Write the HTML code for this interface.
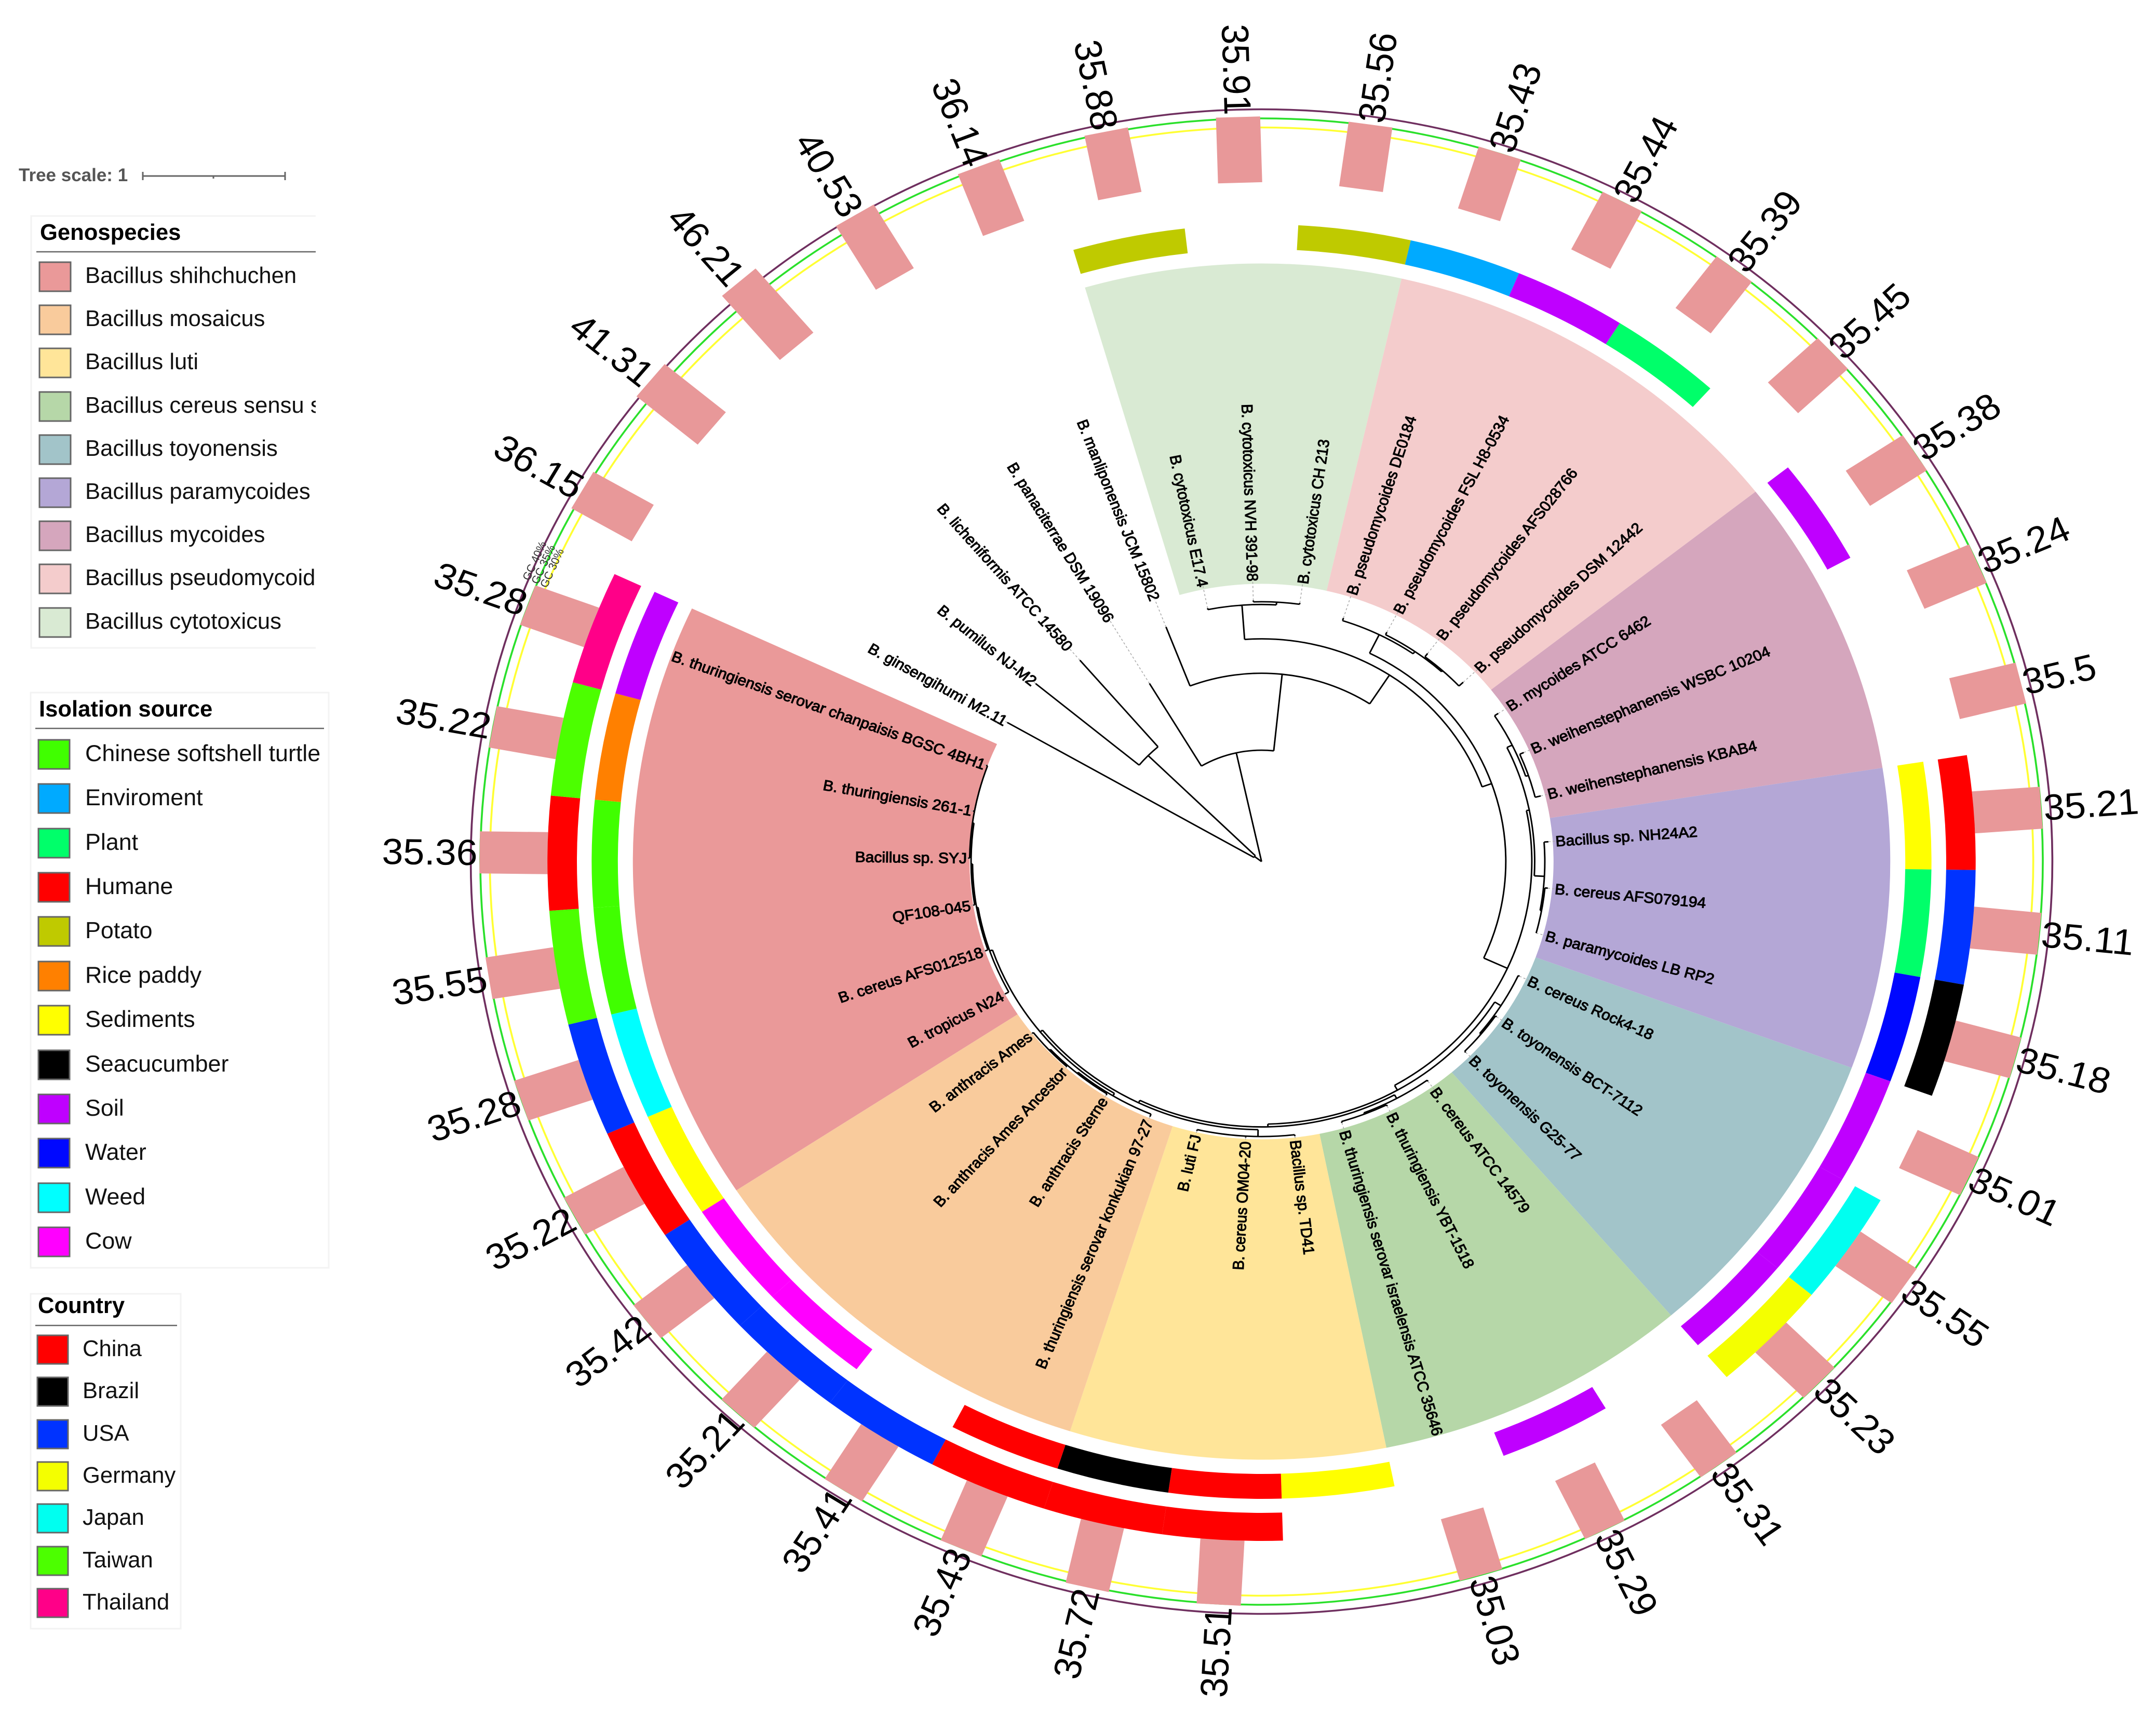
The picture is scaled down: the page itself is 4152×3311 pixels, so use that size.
<!DOCTYPE html>
<html lang="en">
<head>
<meta charset="utf-8">
<title>Bacillus phylogenetic tree</title>
<style>
html,body{margin:0;padding:0;background:#fff}
svg{display:block}
text{font-family:"Liberation Sans",sans-serif}
.lt{font-size:43.6px;fill:#111}
.li{font-size:44.8px;fill:#111}
.lh{font-size:43.6px;font-weight:bold;fill:#000}
.sw{stroke:#666;stroke-width:3}
.box{fill:#fff;stroke:#f3f3f3;stroke-width:3}
.rule{stroke:#666;stroke-width:2.5}
</style>
</head>
<body>
<svg id="figure" xmlns="http://www.w3.org/2000/svg" width="4152" height="3311" viewBox="0 0 4152 3311">
<rect width="4152" height="3311" fill="#fff"/>
<g id="chart" transform="translate(2429.5 1659.5) scale(1.051 1)"></g>

<g>
<text x="36" y="349" font-size="35" font-weight="bold" fill="#555">Tree scale: 1</text>
<path d="M275 339H549M275 331V347M549 331V347M411 339V344" stroke="#666" stroke-width="3" fill="none"/>
</g>

<clipPath id="clipGeno"><rect x="58" y="414" width="550" height="836"/></clipPath>
<g clip-path="url(#clipGeno)">
<rect class="box" x="60" y="416" width="700" height="832"/>
<text class="lh" x="77" y="462">Genospecies</text>
<line class="rule" x1="70" x2="608" y1="485" y2="485"/>
<g><rect class="sw" x="76" y="505" width="60" height="56" fill="#ea9999"/><text class="lt" x="164" y="545">Bacillus shihchuchen</text></g>
<g><rect class="sw" x="76" y="588" width="60" height="56" fill="#f9cb9c"/><text class="lt" x="164" y="628">Bacillus mosaicus</text></g>
<g><rect class="sw" x="76" y="671" width="60" height="56" fill="#ffe599"/><text class="lt" x="164" y="711">Bacillus luti</text></g>
<g><rect class="sw" x="76" y="755" width="60" height="56" fill="#b6d7a8"/><text class="lt" x="164" y="795">Bacillus cereus sensu stricto</text></g>
<g><rect class="sw" x="76" y="838" width="60" height="56" fill="#a2c4c9"/><text class="lt" x="164" y="878">Bacillus toyonensis</text></g>
<g><rect class="sw" x="76" y="921" width="60" height="56" fill="#b4a7d6"/><text class="lt" x="164" y="961">Bacillus paramycoides</text></g>
<g><rect class="sw" x="76" y="1004" width="60" height="56" fill="#d5a6bd"/><text class="lt" x="164" y="1044">Bacillus mycoides</text></g>
<g><rect class="sw" x="76" y="1087" width="60" height="56" fill="#f4cccc"/><text class="lt" x="164" y="1127">Bacillus pseudomycoides</text></g>
<g><rect class="sw" x="76" y="1171" width="60" height="56" fill="#d9ead3"/><text class="lt" x="164" y="1211">Bacillus cytotoxicus</text></g>
</g>

<g>
<rect class="box" x="59" y="1334" width="574" height="1108"/>
<text class="lh" x="75" y="1380">Isolation source</text>
<line class="rule" x1="68" x2="624" y1="1403" y2="1403"/>
<g><rect class="sw" x="74" y="1425" width="60" height="56" fill="#40ff00"/><text class="li" x="164" y="1466">Chinese softshell turtle</text></g>
<g><rect class="sw" x="74" y="1510" width="60" height="56" fill="#00aaff"/><text class="li" x="164" y="1551">Enviroment</text></g>
<g><rect class="sw" x="74" y="1596" width="60" height="56" fill="#00ff6a"/><text class="li" x="164" y="1637">Plant</text></g>
<g><rect class="sw" x="74" y="1681" width="60" height="56" fill="#ff0000"/><text class="li" x="164" y="1722">Humane</text></g>
<g><rect class="sw" x="74" y="1766" width="60" height="56" fill="#bfca00"/><text class="li" x="164" y="1807">Potato</text></g>
<g><rect class="sw" x="74" y="1852" width="60" height="56" fill="#ff8000"/><text class="li" x="164" y="1893">Rice paddy</text></g>
<g><rect class="sw" x="74" y="1937" width="60" height="56" fill="#ffff00"/><text class="li" x="164" y="1978">Sediments</text></g>
<g><rect class="sw" x="74" y="2023" width="60" height="56" fill="#000"/><text class="li" x="164" y="2064">Seacucumber</text></g>
<g><rect class="sw" x="74" y="2108" width="60" height="56" fill="#bf00ff"/><text class="li" x="164" y="2149">Soil</text></g>
<g><rect class="sw" x="74" y="2193" width="60" height="56" fill="#0008ff"/><text class="li" x="164" y="2234">Water</text></g>
<g><rect class="sw" x="74" y="2279" width="60" height="56" fill="#00ffff"/><text class="li" x="164" y="2320">Weed</text></g>
<g><rect class="sw" x="74" y="2364" width="60" height="56" fill="#ff00ff"/><text class="li" x="164" y="2405">Cow</text></g>
</g>

<g>
<rect class="box" x="59" y="2492" width="289" height="645"/>
<text class="lh" x="73" y="2529">Country</text>
<line class="rule" x1="68" x2="341" y1="2553" y2="2553"/>
<g><rect class="sw" x="72" y="2572" width="59" height="55" fill="#ff0000"/><text class="lt" x="159" y="2612">China</text></g>
<g><rect class="sw" x="72" y="2653" width="59" height="55" fill="#000"/><text class="lt" x="159" y="2693">Brazil</text></g>
<g><rect class="sw" x="72" y="2735" width="59" height="55" fill="#0033ff"/><text class="lt" x="159" y="2775">USA</text></g>
<g><rect class="sw" x="72" y="2816" width="59" height="55" fill="#f4ff00"/><text class="lt" x="159" y="2856">Germany</text></g>
<g><rect class="sw" x="72" y="2897" width="59" height="55" fill="#00fff0"/><text class="lt" x="159" y="2937">Japan</text></g>
<g><rect class="sw" x="72" y="2979" width="59" height="55" fill="#4cff00"/><text class="lt" x="159" y="3019">Taiwan</text></g>
<g><rect class="sw" x="72" y="3060" width="59" height="55" fill="#ff0088"/><text class="lt" x="159" y="3100">Thailand</text></g>
</g>
</svg>

<script>
// ---- data, one entry per tip, clockwise from the outgroup ----
const taxa = [
"B. ginsengihumi M2.11","B. pumilus NJ-M2","B. licheniformis ATCC 14580","B. panaciterrae DSM 19096","B. manliponensis JCM 15802",
"B. cytotoxicus E17.4","B. cytotoxicus NVH 391-98","B. cytotoxicus CH 213",
"B. pseudomycoides DE0184","B. pseudomycoides FSL H8-0534","B. pseudomycoides AFS028766","B. pseudomycoides DSM 12442",
"B. mycoides ATCC 6462","B. weihenstephanensis WSBC 10204","B. weihenstephanensis KBAB4",
"Bacillus sp. NH24A2","B. cereus AFS079194","B. paramycoides LB RP2",
"B. cereus Rock4-18","B. toyonensis BCT-7112","B. toyonensis G25-77",
"B. cereus ATCC 14579","B. thuringiensis YBT-1518","B. thuringiensis serovar israelensis ATCC 35646",
"Bacillus sp. TD41","B. cereus OM04-20","B. luti FJ",
"B. thuringiensis serovar konkukian 97-27","B. anthracis Sterne","B. anthracis Ames Ancestor","B. anthracis Ames",
"B. tropicus N24","B. cereus AFS012518","QF108-045","Bacillus sp. SYJ","B. thuringiensis 261-1","B. thuringiensis serovar chanpaisis BGSC 4BH1"];

const gcValues = [36.15,41.31,46.21,40.53,36.14,35.88,35.91,35.56,35.43,35.44,35.39,35.45,35.38,35.24,35.5,35.21,35.11,35.18,35.01,35.55,35.23,35.31,35.29,35.03,null,35.51,35.72,35.43,35.41,35.21,35.42,35.22,35.28,35.55,35.36,35.22,35.28];

const genospecies = [null,null,null,null,null,
"cytotoxicus","cytotoxicus","cytotoxicus",
"pseudomycoides","pseudomycoides","pseudomycoides","pseudomycoides",
"mycoides","mycoides","mycoides",
"paramycoides","paramycoides","paramycoides",
"toyonensis","toyonensis","toyonensis",
"cereus","cereus","cereus",
"luti","luti","luti",
"mosaicus","mosaicus","mosaicus","mosaicus",
"shihchuchen","shihchuchen","shihchuchen","shihchuchen","shihchuchen","shihchuchen"];

const isolationSource = [null,null,null,null,null,
"Potato",null,"Potato",
"Enviroment","Soil","Plant",null,
"Soil",null,null,
"Sediments","Plant","Water",
"Soil","Soil","Soil",
null,"Soil",null,
"Sediments","Humane","Seacucumber",
"Humane",null,"Cow","Cow",
"Sediments","Weed","Turtle","Turtle","Rice paddy","Soil"];

const country = [null,null,null,null,null,null,null,null,null,null,null,null,null,null,null,
"China","USA","Brazil",
null,"Japan","Germany",
null,null,null,null,
"China","China","China",
"USA","USA","USA",
"China","USA","Taiwan","China","Taiwan","Thailand"];

const gcTicks = [30,35,40];

// tree: node = N(depth, children...), tip = L(depth, tipIndex)
function N(d){return {d:d,kids:Array.prototype.slice.call(arguments,1)};}
function L(d,tip){return {d:d,tip:tip};}
const cladeOutA = N(6, L(203,0), N(110, L(203,1), L(193,2)));
const cladeCyto = N(187, L(188,5), N(189, L(190,6), L(190,7)));
const cladePseudo = N(184, L(186,8), N(186, L(188,9), N(187, L(190,10), L(191,11))));
const cladeMyc = N(193, L(196,12), N(195, L(198,13), L(199,14)));
const cladePara = N(196, L(199,15), N(197, L(199,16), L(197,17)));
const cladeToy = N(196, L(197,18), N(197, L(198,19), L(198,20)));
const cladeCer = N(196, L(197,21), N(197, L(198,22), L(198,23)));
const cladeLuti = N(200, L(201,24), N(200, L(201,25), L(201,26)));
const cladeMos = N(199, L(201,27), N(200, L(201,28), N(201, L(201,29), L(202,30))));
const shih5 = N(202, L(203,35), L(203,36));
const shih4 = N(202, L(203,34), shih5);
const shih3 = N(201, L(202,33), shih4);
const shih2 = N(200, L(202,32), shih3);
const cladeShih = N(199, L(202,31), shih2);
const nodeAA = N(197, cladeMos, cladeShih);
const nodeZ = N(195, cladeLuti, nodeAA);
const nodeY = N(193, cladeCer, nodeZ);
const nodeM = N(191, cladeToy, nodeY);
const nodeQ = N(189, cladeMyc, cladePara);
const nodeH = N(187, nodeQ, nodeM);
const nodeF = N(169, cladePseudo, nodeH);
const nodeE = N(162, cladeCyto, nodeF);
const nodeD = N(137, L(183,4), nodeE);
const nodeC = N(81, L(151,3), nodeD);
const tree = N(0, cladeOutA, nodeC);

// ---- styles ----
const genoColors = {shihchuchen:"#ea9999",mosaicus:"#f9cb9c",luti:"#ffe599",cereus:"#b6d7a8",toyonensis:"#a2c4c9",paramycoides:"#b4a7d6",mycoides:"#d5a6bd",pseudomycoides:"#f4cccc",cytotoxicus:"#d9ead3"};
const sourceColors = {Turtle:"#40ff00",Enviroment:"#00aaff",Plant:"#00ff6a",Humane:"#ff0000",Potato:"#bfca00","Rice paddy":"#ff8000",Sediments:"#ffff00",Seacucumber:"#000000",Soil:"#bf00ff",Water:"#0008ff",Weed:"#00ffff",Cow:"#ff00ff"};
const countryColors = {China:"#ff0000",Brazil:"#000000",USA:"#0033ff",Germany:"#f4ff00",Japan:"#00fff0",Taiwan:"#4cff00",Thailand:"#ff0088"};
const gcTickColors = {30:"#ffff33",35:"#2be02b",40:"#6f2f5f"};

// ---- axis functions ----
const THETA0 = -60.1, STEP = 360/37;
function angleOf(i){return THETA0 + i*STEP;}
function treeR(d){return d*2.648;}
function gcR(v){return 1431.5 + (v-35)*3.5;}
function pt(r,a){const t=a*Math.PI/180;return [r*Math.sin(t),-r*Math.cos(t)];}
function sector(r0,r1,a0,a1){
  const p=pt(r1,a0),q=pt(r1,a1),s=pt(r0,a1),u=pt(r0,a0),big=(a1-a0)>180?1:0;
  return "M"+p[0]+" "+p[1]+"A"+r1+" "+r1+" 0 "+big+" 1 "+q[0]+" "+q[1]+"L"+s[0]+" "+s[1]+"A"+r0+" "+r0+" 0 "+big+" 0 "+u[0]+" "+u[1]+"Z";
}
const SVGNS="http://www.w3.org/2000/svg";
const chartRoot=document.getElementById("chart");
function make(tag,parent){const e=document.createElementNS(SVGNS,tag);parent.appendChild(e);return e;}
function group(name){
  const g=make("g",chartRoot);
  
  
  return g;
}

// ---- GC reference circles ----
const gGc=group("gc-reference-rings");
gcTicks.forEach(function(t){
  const c=make("circle",gGc);
  
  
  c.setAttribute("r",gcR(t)); c.setAttribute("fill","none");
  c.setAttribute("stroke",gcTickColors[t]); c.setAttribute("stroke-width",3.5);
});

// ---- GC bars ----
const gBars=group("gc-bars");
const BAR_BASE=1308, BAR_W=81;
gcValues.forEach(function(v,i){
  if(v===null) return;
  const b=make("rect",gBars);
  
  
  const outer=gcR(v);
  b.setAttribute("x",-BAR_W/2); b.setAttribute("y",-outer);
  b.setAttribute("width",BAR_W); b.setAttribute("height",outer-BAR_BASE);
  b.setAttribute("fill","#e89899");
  b.setAttribute("transform","rotate("+angleOf(i)+")");
});

// ---- annotation rings ----
const gCountry=group("country-ring");
country.forEach(function(v,i){
  if(!v) return;
  const p=make("path",gCountry);
  
  
  p.setAttribute("d",sector(1254.5,1308.5,angleOf(i-0.5),angleOf(i+0.5)));
  p.setAttribute("fill",countryColors[v]);
});
const gSource=group("isolation-source-ring");
isolationSource.forEach(function(v,i){
  if(!v) return;
  const p=make("path",gSource);
  
  
  p.setAttribute("d",sector(1179.5,1227.5,angleOf(i-0.5),angleOf(i+0.5)));
  p.setAttribute("fill",sourceColors[v]);
});

// ---- genospecies wedges (contiguous tips merged) ----
const gWedge=group("genospecies-wedges");
(function(){
  let start=0;
  for(let i=1;i<=genospecies.length;i++){
    if(i===genospecies.length||genospecies[i]!==genospecies[start]){
      if(genospecies[start]){
        const p=make("path",gWedge);
        
        
        p.setAttribute("d",sector(535,1152,angleOf(start-0.5),angleOf(i-0.5)));
        p.setAttribute("fill",genoColors[genospecies[start]]);
      }
      start=i;
    }
  }
})();

// ---- tree ----
const gTree=group("phylogenetic-tree");
function setAngles(n){
  if(n.kids){n.kids.forEach(setAngles);n.a=(n.kids[0].a+n.kids[n.kids.length-1].a)/2;}
  else n.a=angleOf(n.tip);
}
setAngles(tree);
let treePath="", dashPath="";
function walk(n,parentD){
  const a=pt(treeR(parentD),n.a),b=pt(treeR(n.d),n.a);
  if(n.d>0) treePath+="M"+a[0]+" "+a[1]+"L"+b[0]+" "+b[1];
  if(n.kids){
    const r=treeR(n.d),a0=n.kids[0].a,a1=n.kids[n.kids.length-1].a;
    if(n.d>0){
      const s=pt(r,a0),e=pt(r,a1);
      treePath+="M"+s[0]+" "+s[1]+"A"+r+" "+r+" 0 0 1 "+e[0]+" "+e[1];
    }
    n.kids.forEach(function(k){walk(k,n.d);});
  } else {
    const e=pt(treeR(204.5),n.a);
    dashPath+="M"+b[0]+" "+b[1]+"L"+e[0]+" "+e[1];
  }
}
walk(tree,0);
const dashEl=make("path",gTree);


dashEl.setAttribute("d",dashPath); dashEl.setAttribute("fill","none");
dashEl.setAttribute("stroke","#aaa"); dashEl.setAttribute("stroke-width",1.5); dashEl.setAttribute("stroke-dasharray","4 4");
const treeEl=make("path",gTree);


treeEl.setAttribute("d",treePath); treeEl.setAttribute("fill","none");
treeEl.setAttribute("stroke","#000"); treeEl.setAttribute("stroke-width",2.8);

// ---- labels ----
function radialText(parent,str,r,a,size){
  const t=make("text",parent);
  const p=pt(r,a),norm=((a%360)+360)%360,left=norm>180;
  t.setAttribute("transform","translate("+p[0]+" "+p[1]+") rotate("+(left?a+90:a-90)+")");
  t.setAttribute("text-anchor",left?"end":"start");
  t.setAttribute("dy",".35em");
  t.setAttribute("font-size",size);
  t.textContent=str;
  return t;
}
const gTaxa=group("taxon-labels");
taxa.forEach(function(name,i){
  const t=radialText(gTaxa,name,540,angleOf(i),28.6);
  
  
  t.setAttribute("fill","#000");
  t.setAttribute("stroke","#000");
  t.setAttribute("stroke-width","1.1");
});
const gGcL=group("gc-value-labels");
gcValues.forEach(function(v,i){
  if(v===null) return;
  const t=radialText(gGcL,String(v),gcR(v)+4,angleOf(i),70);
  
  
  t.setAttribute("fill","#000");
});
const gTick=group("gc-scale-labels");
gcTicks.forEach(function(tk){
  const t=make("text",gTick);
  
  
  const a=-66.5,p=pt(gcR(tk)+4,a);
  t.setAttribute("transform","translate("+p[0]+" "+p[1]+") rotate("+a+")");
  t.setAttribute("text-anchor","middle"); t.setAttribute("dy",".35em");
  t.setAttribute("font-size",21); t.setAttribute("fill","#333");
  t.textContent="GC "+tk+"%";
});
</script>
</body>
</html>
